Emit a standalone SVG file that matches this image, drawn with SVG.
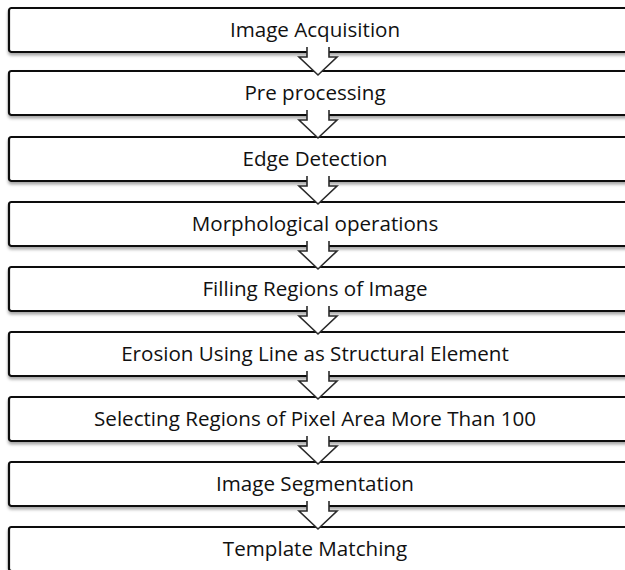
<svg xmlns="http://www.w3.org/2000/svg" width="625" height="570" viewBox="0 0 625 570">
<defs>
<filter id="sh" x="-5%" y="-20%" width="110%" height="160%">
<feDropShadow dx="0" dy="2.5" stdDeviation="1.6" flood-color="#000" flood-opacity="0.35"/>
</filter>
<g id="arr">
<path d="M307,-5 V5 H299 L318,23 L337,5 H329 V-5 Z" fill="#fff" stroke="none"/>
<path d="M307,-5 V5 H299 L318,23 L337,5 H329 V-5" fill="none" stroke="#2a2a2a" stroke-width="1.6" stroke-linejoin="miter"/>
</g>
</defs>
<style>
.box{fill:#fff;stroke:#111;stroke-width:2.2;filter:url(#sh)}
.lbl{font-family:"Open Sans","Liberation Sans",sans-serif;font-size:20.6px;fill:#111;text-anchor:middle}
</style>
<rect width="625" height="570" fill="#fff"/>
<g id="n1"><rect class="box" x="9" y="8" width="640" height="44" rx="2.5"/><text class="lbl" x="315" y="37">Image Acquisition</text></g>
<g id="n2"><rect class="box" x="9" y="71" width="640" height="44" rx="2.5"/><text class="lbl" x="315" y="100">Pre processing</text></g>
<g id="n3"><rect class="box" x="9" y="137" width="640" height="44" rx="2.5"/><text class="lbl" x="315" y="166">Edge Detection</text></g>
<g id="n4"><rect class="box" x="9" y="202" width="640" height="44" rx="2.5"/><text class="lbl" x="315" y="231">Morphological operations</text></g>
<g id="n5"><rect class="box" x="9" y="267" width="640" height="44" rx="2.5"/><text class="lbl" x="315" y="296">Filling Regions of Image</text></g>
<g id="n6"><rect class="box" x="9" y="332" width="640" height="44" rx="2.5"/><text class="lbl" x="315" y="361">Erosion Using Line as Structural Element</text></g>
<g id="n7"><rect class="box" x="9" y="397" width="640" height="44" rx="2.5"/><text class="lbl" x="315" y="426">Selecting Regions of Pixel Area More Than 100</text></g>
<g id="n8"><rect class="box" x="9" y="462" width="640" height="44" rx="2.5"/><text class="lbl" x="315" y="491">Image Segmentation</text></g>
<g id="n9"><rect class="box" x="9" y="527" width="640" height="44" rx="2.5"/><text class="lbl" x="315" y="556">Template Matching</text></g>
<g id="connectors">
<use href="#arr" transform="translate(0,52)"/>
<use href="#arr" transform="translate(0,115)"/>
<use href="#arr" transform="translate(0,181)"/>
<use href="#arr" transform="translate(0,246)"/>
<use href="#arr" transform="translate(0,311)"/>
<use href="#arr" transform="translate(0,376)"/>
<use href="#arr" transform="translate(0,441)"/>
<use href="#arr" transform="translate(0,506)"/>
</g>
</svg>
